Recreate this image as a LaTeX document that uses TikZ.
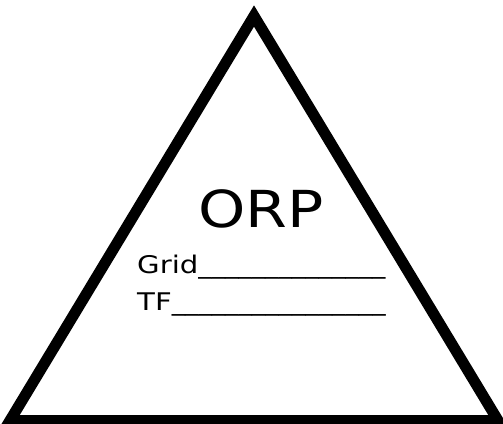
\documentclass[tikz,border=0pt]{standalone}
\usepackage{fontspec}
\setmainfont{DejaVu Sans}
\usepackage{graphicx}
\newcommand{\wideletters}[1]{\scalebox{1.2}[1]{#1}}
\newcommand{\blanks}[1]{\scalebox{1.1}[1]{#1}}
\tikzset{
  tri/.style={line width=11pt, line join=miter, miter limit=10, draw=black},
  bigtext/.style={inner sep=0pt, font=\fontsize{51}{55}\selectfont},
  fieldtext/.style={inner sep=0pt, anchor=base west, font=\fontsize{24.3}{28}\selectfont}
}
\begin{document}
\begin{tikzpicture}[x=1pt, y=-1pt]
  \useasboundingbox (0,0) rectangle (503,423);
  \fill[white] (0,0) rectangle (503,423);
  \coordinate (apex) at (254,16);
  \coordinate (bl) at (10,420.5);
  \coordinate (br) at (498,420.5);
  \draw[tri] (apex) -- (bl) -- (br) -- cycle;
  \node[bigtext, anchor=base] (orp) at (261,227) {\scalebox{1.18}[1]{ORP}};
  \node[fieldtext] (grid) at (137,273) {\wideletters{Grid}\blanks{\_\_\_\_\_\_\_\_\_\_\_\_\_\_}};
  \node[fieldtext] (tf) at (137,310.5) {\wideletters{TF}\blanks{\_\_\_\_\_\_\_\_\_\_\_\_\_\_\_\_}};
\end{tikzpicture}
\end{document}
